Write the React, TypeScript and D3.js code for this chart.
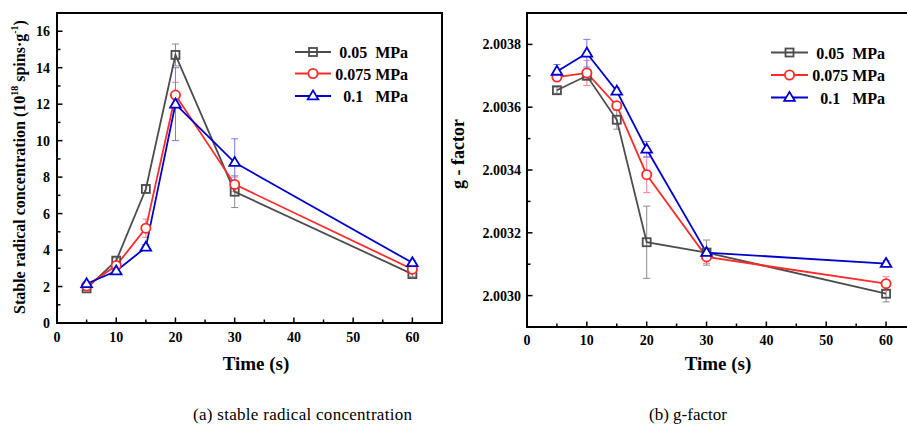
import React from "react";
import * as d3 from "d3";

const times = [5, 10, 15, 20, 30, 60];
const seriesLabels = ["0.05  MPa", "0.075 MPa", " 0.1   MPa"];
const seriesColors = ["#4d4d4d", "#ff2a2a", "#0000cc"];
const errColors = ["#8a8a8a", "#ff8080", "#7777ff"];
const seriesMarkers = ["square", "circle", "triangle"];

const concA = [1.9, 3.42, 7.35, 14.7, 7.2, 2.68];
const concAErr = [0.12, 0.15, 0.2, 0.6, 0.87, 0.15];
const concB = [2.03, 3.15, 5.2, 12.5, 7.6, 2.95];
const concBErr = [0.1, 0.15, 0.5, 0.7, 0.4, 0.15];
const concC = [2.15, 2.85, 4.15, 12.0, 8.8, 3.3];
const concCErr = [0.1, 0.1, 0.15, 2.0, 1.3, 0.12];

const gA = [2.003654, 2.0037, 2.00356, 2.00317, 2.003137, 2.003006];
const gAErr = [0.00001, 0.00001, 0.00003, 0.000115, 0.00004, 0.000026];
const gB = [2.003696, 2.003709, 2.003605, 2.003385, 2.003123, 2.003038];
const gBErr = [0.00001, 0.00004, 0.00001, 0.000057, 0.00002, 0.000022];
const gC = [2.003714, 2.003772, 2.003651, 2.003466, 2.003137, 2.003102];
const gCErr = [0.000022, 0.000044, 0.00001, 0.000025, 0.00001, 0.00001];

const xTicks = [0, 10, 20, 30, 40, 50, 60];
const xMinor = [5, 15, 25, 35, 45, 55, 65];
const concTicks = [0, 2, 4, 6, 8, 10, 12, 14, 16];
const concMinor = [1, 3, 5, 7, 9, 11, 13, 15, 17];
const gTicks = [2.003, 2.0032, 2.0034, 2.0036, 2.0038];
const gMinor = [2.0029, 2.0031, 2.0033, 2.0035, 2.0037, 2.0039];

const captionA = "(a) stable radical concentration";
const captionB = "(b) g-factor";

const FONT = "'Times New Roman', 'Liberation Serif', Times, serif";

function Marker({ type, x, y, color }: { type: string; x: number; y: number; color: string }) {
  if (type === "square")
    return <rect x={x - 4} y={y - 4} width={8} height={8} fill="none" stroke={color} strokeWidth={1.8} />;
  if (type === "circle")
    return <circle cx={x} cy={y} r={4.6} fill="white" stroke={color} strokeWidth={1.8} />;
  const s = 5.6;
  const pts = [
    [x, y - s],
    [x - s * 0.95, y + s * 0.6],
    [x + s * 0.95, y + s * 0.6],
  ];
  return <polygon points={pts.map((p) => p.join(",")).join(" ")} fill="white" stroke={color} strokeWidth={1.8} />;
}

type PanelProps = {
  left: number;
  right: number;
  top: number;
  bottom: number;
  xDomain: [number, number];
  yDomain: [number, number];
  yTicks: number[];
  yMinorTicks: number[];
  yFmt: (v: number) => string;
  series: number[][];
  errs: number[][];
  legendX1: number;
  legendX2: number;
  legendTextEnd: number;
  legendYs: number[];
  xTitleX: number;
  yTitle: React.ReactNode;
  yLabelGap: number;
  xLabelOffset: number;
};

function Panel(p: PanelProps) {
  const x = d3.scaleLinear().domain(p.xDomain).range([p.left, p.right]);
  const y = d3.scaleLinear().domain(p.yDomain).range([p.bottom, p.top]);
  const line = d3
    .line<number>()
    .x((_, i) => x(times[i]))
    .y((d) => y(d));
  return (
    <g>
      {xTicks.map((t) => (
        <line key={"xt" + t} x1={x(t)} x2={x(t)} y1={p.bottom} y2={p.bottom - 5.5} stroke="black" strokeWidth={1.5} />
      ))}
      {xMinor.map((t) => (
        <line key={"xm" + t} x1={x(t)} x2={x(t)} y1={p.bottom} y2={p.bottom - 3.5} stroke="black" strokeWidth={1.5} />
      ))}
      {p.yTicks.map((t) => (
        <line key={"yt" + t} x1={p.left} x2={p.left + 5.5} y1={y(t)} y2={y(t)} stroke="black" strokeWidth={1.5} />
      ))}
      {p.yMinorTicks.map((t) => (
        <line key={"ym" + t} x1={p.left} x2={p.left + 3.5} y1={y(t)} y2={y(t)} stroke="black" strokeWidth={1.5} />
      ))}
      {xTicks.map((t) => (
        <text key={"xl" + t} x={x(t)} y={p.bottom + p.xLabelOffset} textAnchor="middle" fontSize={14} fontWeight="bold" fontFamily={FONT}>
          {t}
        </text>
      ))}
      {p.yTicks.map((t) => (
        <text key={"yl" + t} x={p.left - p.yLabelGap} y={y(t) + 5} textAnchor="end" fontSize={14} fontWeight="bold" fontFamily={FONT}>
          {p.yFmt(t)}
        </text>
      ))}
      {p.series.map((s, si) =>
        s.map((v, i) => {
          const e = p.errs[si][i];
          const cx = x(times[i]);
          const y1 = y(v - e);
          const y2 = y(v + e);
          return (
            <g key={"e" + si + "_" + i} stroke={errColors[si]} strokeWidth={1}>
              <line x1={cx} x2={cx} y1={y1} y2={y2} />
              <line x1={cx - 3.5} x2={cx + 3.5} y1={y1} y2={y1} />
              <line x1={cx - 3.5} x2={cx + 3.5} y1={y2} y2={y2} />
            </g>
          );
        })
      )}
      {p.series.map((s, si) => (
        <path key={"l" + si} d={line(s) || ""} fill="none" stroke={seriesColors[si]} strokeWidth={1.8} />
      ))}
      {p.series.map((s, si) =>
        s.map((v, i) => (
          <Marker key={"m" + si + "_" + i} type={seriesMarkers[si]} x={x(times[i])} y={y(v)} color={seriesColors[si]} />
        ))
      )}
      <rect x={p.left} y={p.top} width={p.right - p.left} height={p.bottom - p.top} fill="none" stroke="black" strokeWidth={2} />
      {seriesLabels.map((lab, si) => (
        <g key={"lg" + si}>
          <line x1={p.legendX1} x2={p.legendX2} y1={p.legendYs[si]} y2={p.legendYs[si]} stroke={seriesColors[si]} strokeWidth={1.8} />
          <Marker type={seriesMarkers[si]} x={(p.legendX1 + p.legendX2) / 2} y={p.legendYs[si]} color={seriesColors[si]} />
          <text x={p.legendTextEnd} y={p.legendYs[si] + 6} textAnchor="end" fontSize={16} fontWeight="bold" fontFamily={FONT} style={{ whiteSpace: "pre" }}>
            {lab}
          </text>
        </g>
      ))}
      <text x={p.xTitleX} y={370} textAnchor="middle" fontSize={19} fontWeight="bold" fontFamily={FONT}>
        Time (s)
      </text>
      {p.yTitle}
    </g>
  );
}

export default function App() {
  return (
    <svg width={907} height={424} style={{ position: "absolute", left: 0, top: 0, background: "white" }}>
      <rect x={0} y={0} width={907} height={424} fill="white" />
      <Panel
        left={57}
        right={442}
        top={13}
        bottom={323}
        xDomain={[0, 65]}
        yDomain={[0, 17]}
        yTicks={concTicks}
        yMinorTicks={concMinor}
        yFmt={(v) => String(v)}
        series={[concA, concB, concC]}
        errs={[concAErr, concBErr, concCErr]}
        legendX1={295}
        legendX2={331}
        legendTextEnd={408}
        legendYs={[52, 73.5, 96]}
        xTitleX={256}
        yLabelGap={7}
        xLabelOffset={19}
        yTitle={
          <text transform="translate(25,167) rotate(-90)" textAnchor="middle" fontSize={16} fontWeight="bold" fontFamily={FONT}>
            Stable radical concentration (10
            <tspan fontSize={10} dy={-7}>18</tspan>
            <tspan dy={7}> spins·g</tspan>
            <tspan fontSize={10} dy={-7}>-1</tspan>
            <tspan dy={7}>)</tspan>
          </text>
        }
      />
      <Panel
        left={527}
        right={916}
        top={13}
        bottom={327}
        xDomain={[0, 65]}
        yDomain={[2.0029, 2.0039]}
        yTicks={gTicks}
        yMinorTicks={gMinor}
        yFmt={(v) => v.toFixed(4)}
        series={[gA, gB, gC]}
        errs={[gAErr, gBErr, gCErr]}
        legendX1={771}
        legendX2={808}
        legendTextEnd={885}
        legendYs={[52.5, 75, 97.5]}
        xTitleX={718}
        yLabelGap={6}
        xLabelOffset={18}
        yTitle={
          <text transform="translate(464,154) rotate(-90)" textAnchor="middle" fontSize={18} fontWeight="bold" fontFamily={FONT}>
            g - factor
          </text>
        }
      />
      <text x={193} y={420} fontSize={17} fontFamily={FONT} textLength={219} lengthAdjust="spacing">
        {captionA}
      </text>
      <text x={649} y={420} fontSize={17} fontFamily={FONT}>
        {captionB}
      </text>
    </svg>
  );
}
